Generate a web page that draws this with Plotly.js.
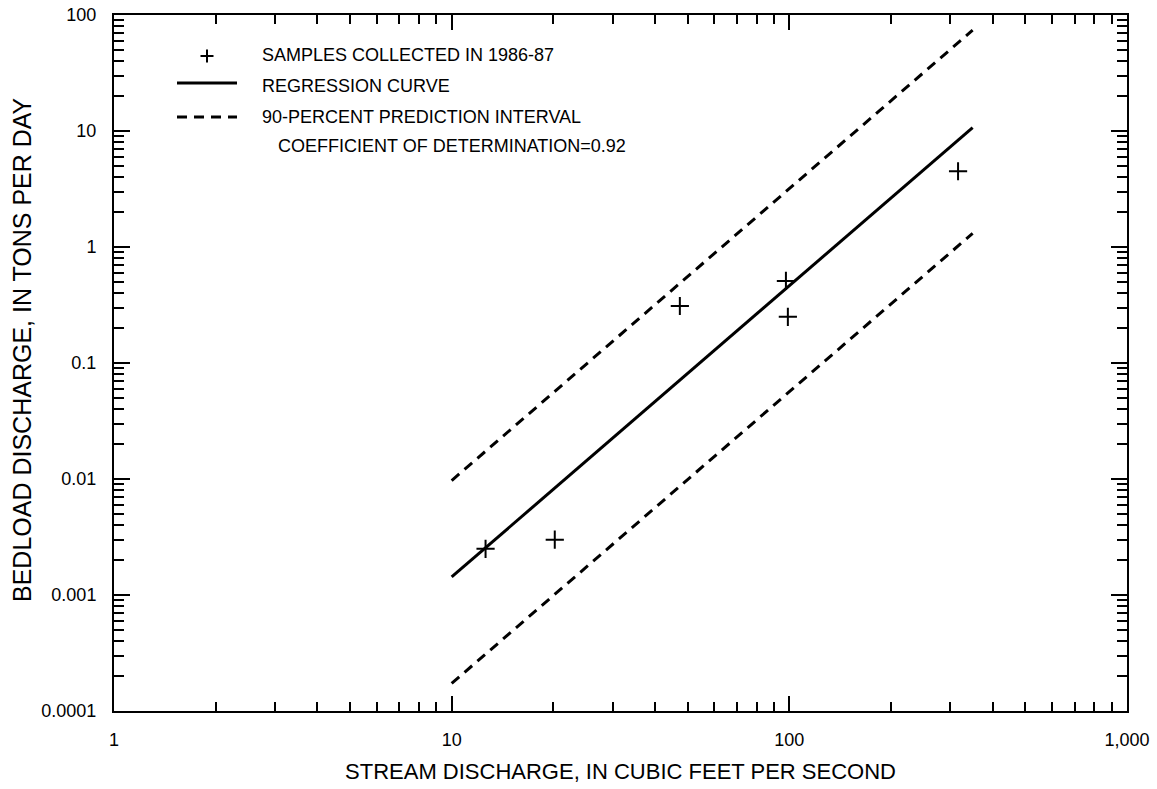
<!DOCTYPE html>
<html>
<head>
<meta charset="utf-8">
<script src="https://cdn.plot.ly/plotly-3.0.1.min.js"></script>
<style>html,body{margin:0;padding:0;background:#fff;}#chart{width:1157px;height:789px;}</style>
</head>
<body>
<div id="chart"></div>
<script>
// Samples collected in 1986-87
const sampleDischarge = [12.6, 20.2, 47.4, 97.7, 99, 316];
const sampleBedload = [0.0025, 0.003, 0.31, 0.51, 0.25, 4.5];
// Regression curve
const regDischarge = [10, 349];
const regBedload = [0.00143, 10.7];
// 90-percent prediction interval
const piDischarge = [10, 349];
const piUpper = [0.0097, 74];
const piLower = [0.000173, 1.31];

const xTickVals = [1, 10, 100, 1000];
const xTickText = ['1', '10', '100', '1,000'];
const yTickVals = [0.0001, 0.001, 0.01, 0.1, 1, 10, 100];
const yTickText = ['0.0001', '0.001', '0.01', '0.1', '1', '10', '100'];
const xMinor = [2,3,4,5,6,7,8,9,20,30,40,50,60,70,80,90,200,300,400,500,600,700,800,900];
const yMinor = [];
[0.0001,0.001,0.01,0.1,1,10].forEach(d => { for (let k = 2; k <= 9; k++) yMinor.push(+(d*k).toPrecision(3)); });

const legendLabels = ['SAMPLES COLLECTED IN 1986-87', 'REGRESSION CURVE', '90-PERCENT PREDICTION INTERVAL'];
const noteText = 'COEFFICIENT OF DETERMINATION=0.92';
const xTitle = 'STREAM DISCHARGE, IN CUBIC FEET PER SECOND';
const yTitle = 'BEDLOAD DISCHARGE, IN TONS PER DAY';

const FONT = 'Liberation Sans, Arial, Helvetica, sans-serif';

// plot area in pixels (for placing the hand-drawn key)
const L = 114, R = 1127, T = 15, B = 711;
const px = x => (x - L) / (R - L);
const py = y => (B - y) / (B - T);

const dash = '10px,7px';

const traces = [
  {x: piDischarge, y: piUpper, mode: 'lines', line: {color: '#000', width: 3, dash: dash}, hoverinfo: 'skip'},
  {x: piDischarge, y: piLower, mode: 'lines', line: {color: '#000', width: 3, dash: dash}, hoverinfo: 'skip'},
  {x: regDischarge, y: regBedload, mode: 'lines', line: {color: '#000', width: 3}},
  {x: sampleDischarge, y: sampleBedload, mode: 'markers',
   marker: {symbol: 'cross-thin-open', size: 13, color: '#000', line: {color: '#000', width: 2}}}
];

const shapes = [
  {type: 'line', xref: 'paper', yref: 'paper', x0: px(200.5), x1: px(213.5), y0: py(56), y1: py(56), line: {color: '#000', width: 2}},
  {type: 'line', xref: 'paper', yref: 'paper', x0: px(207), x1: px(207), y0: py(49.5), y1: py(62.5), line: {color: '#000', width: 2}},
  {type: 'line', xref: 'paper', yref: 'paper', x0: px(177), x1: px(237), y0: py(83), y1: py(83), line: {color: '#000', width: 3}},
  {type: 'line', xref: 'paper', yref: 'paper', x0: px(177), x1: px(237), y0: py(117), y1: py(117), line: {color: '#000', width: 3, dash: dash}}
];

const textY = [55, 86, 117];
const annotations = legendLabels.map((t, i) => ({
  text: t, xref: 'paper', yref: 'paper', x: px(260), y: py(textY[i]), xanchor: 'left', yanchor: 'middle',
  showarrow: false, font: {family: FONT, size: 18, color: '#000'}
}));
annotations.push({text: noteText, xref: 'paper', yref: 'paper', x: px(276), y: py(146), xanchor: 'left', yanchor: 'middle',
  showarrow: false, font: {family: FONT, size: 18, color: '#000'}});
annotations.push({text: yTitle, xref: 'paper', yref: 'paper', x: px(22), y: py(350), xanchor: 'center', yanchor: 'middle',
  textangle: -90, showarrow: false, font: {family: FONT, size: 25, color: '#000'}});

const axisCommon = {
  type: 'log', showgrid: false, zeroline: false, showline: true, linecolor: '#000', linewidth: 2,
  mirror: 'ticks', ticks: 'inside', tickcolor: '#000', tickwidth: 2,
  tickfont: {family: FONT, size: 18, color: '#000'}
};

const layout = {
  width: 1157, height: 789,
  margin: {l: L, r: 1157 - R, t: T, b: 789 - B},
  paper_bgcolor: '#fff', plot_bgcolor: '#fff',
  showlegend: false,
  xaxis: Object.assign({}, axisCommon, {
    range: [0, 3], tickmode: 'array', tickvals: xTickVals, ticktext: xTickText, ticklen: 15,
    ticklabelstandoff: 11,
    minor: {tickmode: 'array', tickvals: xMinor, ticks: 'inside', ticklen: 9, tickwidth: 2, tickcolor: '#000'},
    title: {text: xTitle, font: {family: FONT, size: 22, color: '#000'}, standoff: 15}
  }),
  yaxis: Object.assign({}, axisCommon, {
    range: [-4, 2], tickmode: 'array', tickvals: yTickVals, ticktext: yTickText, ticklen: 16,
    ticklabelstandoff: 12,
    minor: {tickmode: 'array', tickvals: yMinor, ticks: 'inside', ticklen: 10, tickwidth: 2, tickcolor: '#000'}
  }),
  shapes: shapes,
  annotations: annotations
};

Plotly.newPlot('chart', traces, layout, {displayModeBar: false, staticPlot: true});
</script>
</body>
</html>
